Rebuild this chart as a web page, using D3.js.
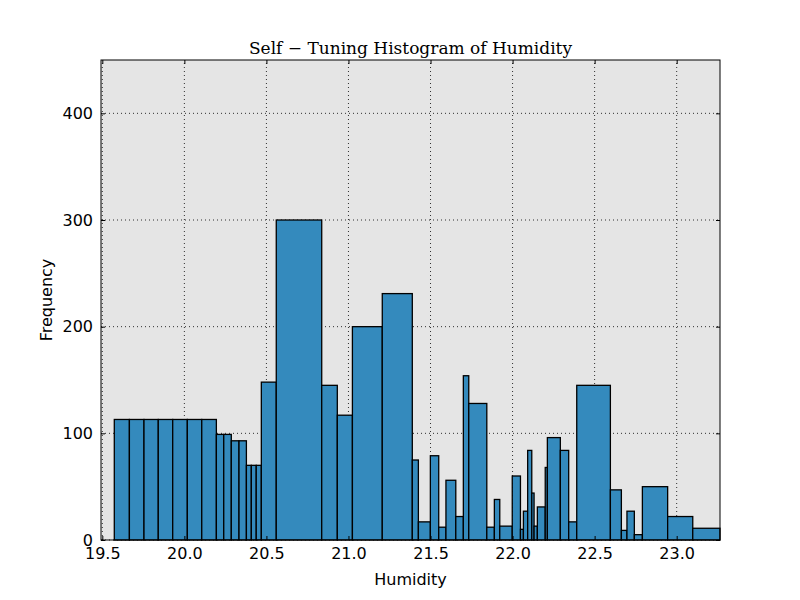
<!DOCTYPE html>
<html>
<head>
<meta charset="utf-8">
<script src="https://cdn.jsdelivr.net/npm/d3@7"></script>
<style>
  body { margin: 0; background: #fff; }
  text { font-family: "DejaVu Sans", sans-serif; }
</style>
</head>
<body>
<svg id="chart" width="800" height="600"></svg>
<script>
// bin edges (humidity), one more than counts
var binEdges = [19.573, 19.665, 19.754, 19.841, 19.929, 20.018, 20.106, 20.195,
  20.240, 20.286, 20.333, 20.378, 20.408, 20.438, 20.469, 20.560, 20.837, 20.932,
  21.024, 21.206, 21.389, 21.426, 21.499, 21.550, 21.594, 21.654, 21.700, 21.733,
  21.843, 21.889, 21.922, 21.998, 22.048, 22.066, 22.092, 22.117, 22.131, 22.151,
  22.199, 22.212, 22.291, 22.342, 22.391, 22.596, 22.663, 22.697, 22.742, 22.791,
  22.945, 23.098, 23.264];
var binCounts = [113, 113, 113, 113, 113, 113, 113, 99, 99, 93, 93, 70, 70, 70,
  148, 300, 145, 117, 200, 231, 75, 17, 79, 12, 56, 22, 154, 128, 12, 38, 13,
  60, 10, 27, 84, 44, 13, 31, 68, 96, 84, 17, 145, 47, 9, 27, 5, 50, 22, 11];
var xTicks = [19.5, 20.0, 20.5, 21.0, 21.5, 22.0, 22.5, 23.0];
var yTicks = [0, 100, 200, 300, 400];
var xDomain = [19.492, 23.264];
var yDomain = [0, 450];

var bins = binCounts.map(function(c, i) {
  return { x0: binEdges[i], x1: binEdges[i + 1], count: c };
});

var margin = { left: 101, right: 80, top: 60, bottom: 60 };
var W = 800, H = 600;
var svg = d3.select("#chart");

var x = d3.scaleLinear().domain(xDomain).range([margin.left, W - margin.right]);
var y = d3.scaleLinear().domain(yDomain).range([H - margin.bottom, margin.top]);

// background
svg.append("rect")
  .attr("x", x.range()[0]).attr("y", y.range()[1])
  .attr("width", x.range()[1] - x.range()[0])
  .attr("height", y.range()[0] - y.range()[1])
  .attr("fill", "#e5e5e5");

// grid
var grid = svg.append("g").attr("stroke", "#000").attr("stroke-width", 0.8)
  .attr("stroke-dasharray", "1,3");
grid.selectAll("line.gx").data(xTicks).enter().append("line")
  .attr("x1", function(d) { return x(d); }).attr("x2", function(d) { return x(d); })
  .attr("y1", y.range()[0]).attr("y2", y.range()[1]);
grid.selectAll("line.gy").data(yTicks).enter().append("line")
  .attr("y1", function(d) { return y(d); }).attr("y2", function(d) { return y(d); })
  .attr("x1", x.range()[0]).attr("x2", x.range()[1]);

// bars
svg.append("g").selectAll("rect").data(bins).enter().append("rect")
  .attr("x", function(d) { return x(d.x0); })
  .attr("width", function(d) { return x(d.x1) - x(d.x0); })
  .attr("y", function(d) { return y(d.count); })
  .attr("height", function(d) { return y(0) - y(d.count); })
  .attr("fill", "#348abd")
  .attr("stroke", "#000")
  .attr("stroke-width", 1.3);

// axes: ticks inside, on all four sides
var tickLen = 4;
var axB = d3.axisBottom(x).tickValues(xTicks).tickFormat(d3.format(".1f"))
  .tickSizeInner(-tickLen).tickSizeOuter(0).tickPadding(8);
var axT = d3.axisTop(x).tickValues(xTicks).tickFormat("")
  .tickSizeInner(-tickLen).tickSizeOuter(0);
var axL = d3.axisLeft(y).tickValues(yTicks)
  .tickSizeInner(-tickLen).tickSizeOuter(0).tickPadding(8);
var axR = d3.axisRight(y).tickValues(yTicks).tickFormat("")
  .tickSizeInner(-tickLen).tickSizeOuter(0);

function styleAxis(g) {
  g.select(".domain").remove();
  g.selectAll(".tick line").attr("stroke", "#000");
  g.selectAll(".tick text").attr("fill", "#000")
    .style("font-size", "16px").style("font-family", "DejaVu Sans, sans-serif");
}
svg.append("g").attr("transform", "translate(0," + y.range()[0] + ")").call(axB).call(styleAxis);
svg.append("g").attr("transform", "translate(0," + y.range()[1] + ")").call(axT).call(styleAxis);
svg.append("g").attr("transform", "translate(" + x.range()[0] + ",0)").call(axL).call(styleAxis);
svg.append("g").attr("transform", "translate(" + x.range()[1] + ",0)").call(axR).call(styleAxis);

// frame
svg.append("rect")
  .attr("x", x.range()[0]).attr("y", y.range()[1])
  .attr("width", x.range()[1] - x.range()[0])
  .attr("height", y.range()[0] - y.range()[1])
  .attr("fill", "none").attr("stroke", "#000").attr("stroke-width", 1);

// labels
svg.append("text")
  .attr("x", (x.range()[0] + x.range()[1]) / 2).attr("y", 54)
  .attr("text-anchor", "middle")
  .style("font-family", "'DejaVu Serif', serif").style("font-size", "17px")
  .text("Self \u2212 Tuning Histogram of Humidity");

svg.append("text")
  .attr("x", (x.range()[0] + x.range()[1]) / 2).attr("y", 585)
  .attr("text-anchor", "middle").style("font-size", "16px")
  .text("Humidity");

svg.append("text")
  .attr("transform", "translate(52," + ((y.range()[0] + y.range()[1]) / 2) + ") rotate(-90)")
  .attr("text-anchor", "middle").style("font-size", "16px")
  .text("Frequency");
</script>
</body>
</html>
